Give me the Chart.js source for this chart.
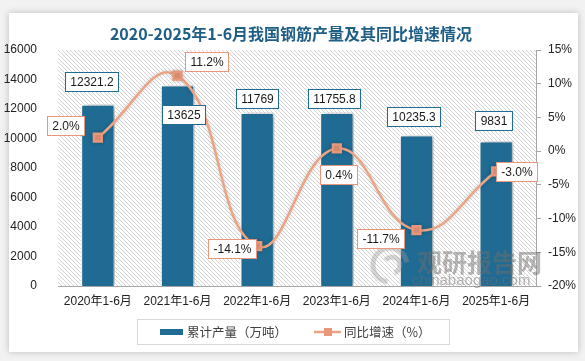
<!DOCTYPE html>
<html lang="zh">
<head>
<meta charset="utf-8">
<script src="https://cdn.jsdelivr.net/npm/chart.js"></script>
<style>
  html, body { margin: 0; padding: 0; background: #f2f2f2; }
  #wrap { position: relative; width: 585px; height: 361px; overflow: hidden; }
  #card { position: absolute; left: 9px; top: 13px; width: 569px; height: 339px; background: #fff; box-shadow: 0 0 7px rgba(0,0,0,0.22); }
  #c { position: absolute; left: 0; top: 0; }
</style>
</head>
<body>
<div id="wrap">
  <div id="card"></div>
  <canvas id="c" width="585" height="361"></canvas>
</div>
<script>
// 数据
const categories = ['2020年1-6月', '2021年1-6月', '2022年1-6月', '2023年1-6月', '2024年1-6月', '2025年1-6月'];
const output = [12321.2, 13625, 11769, 11755.8, 10235.3, 9831];   // 累计产量（万吨）
const growth = [2.0, 11.2, -14.1, 0.4, -11.7, -3.0];               // 同比增速（%）
const leftTicks = [0, 16000, 2000];
const rightTicks = [-20, 15, 5];

// 标签偏移 (dx, dy)
const barLabelOffsets = [[-6, -22], [6, 30], [0, -13], [-2, -14], [-3, -18], [-2, -20]];
const lineLabelOffsets = [[-32, -12], [29, -14], [-25, 3], [2, 27], [-36, 9], [21, 1]];

const BAR = '#1f6b93';
const LINE = '#eba585';
const MARK = '#e8977a';
const FONT = '"Liberation Sans", Arial, "Noto Sans CJK SC", sans-serif';

// 斜线背景
const tile = document.createElement('canvas');
tile.width = 4; tile.height = 4;
const tctx = tile.getContext('2d');
tctx.fillStyle = '#ffffff';
tctx.fillRect(0, 0, 4, 4);
tctx.fillStyle = '#d4d4d4';
for (let i = 0; i < 4; i++) tctx.fillRect(i, i, 1, 1);

function box(ctx, text, cx, cy, border) {
  ctx.font = '12px ' + FONT;
  const w = Math.round(ctx.measureText(text).width + 11), h = 20;
  const x = Math.round(cx - w / 2), y = Math.round(cy - h / 2);
  ctx.fillStyle = '#fff';
  ctx.fillRect(x, y, w, h);
  ctx.strokeStyle = border;
  ctx.lineWidth = 1;
  ctx.strokeRect(x + 0.5, y + 0.5, w - 1, h - 1);
  ctx.fillStyle = '#1a1a1a';
  ctx.textAlign = 'center';
  ctx.textBaseline = 'middle';
  ctx.fillText(text, x + w / 2, y + h / 2 + 0.5);
}

const decor = {
  id: 'decor',
  beforeDraw(chart) {
    const {ctx, chartArea: a} = chart;
    ctx.save();
    ctx.fillStyle = ctx.createPattern(tile, 'repeat');
    ctx.fillRect(a.left, a.top, a.right - a.left, a.bottom - a.top);
    ctx.restore();
  },
  beforeDatasetDraw(chart, args) {
    const ctx = chart.ctx;
    ctx.save();
    if (args.index === 0) {
      ctx.shadowColor = 'rgba(0,0,0,0.35)';
      ctx.shadowBlur = 6;
      ctx.shadowOffsetX = 3;
      ctx.shadowOffsetY = 0;
    } else {
      ctx.shadowColor = 'rgba(0,0,0,0.18)';
      ctx.shadowBlur = 4;
    }
  },
  afterDatasetDraw(chart) {
    chart.ctx.restore();
  },
  afterDraw(chart) {
    const ctx = chart.ctx;
    ctx.save();
    // 水印
    ctx.strokeStyle = 'rgba(150,150,150,0.4)';
    ctx.lineWidth = 5;
    ctx.beginPath();
    ctx.arc(390, 265, 17, Math.PI * 0.55, Math.PI * 1.95);
    ctx.stroke();
    ctx.beginPath();
    ctx.arc(392, 265, 8, Math.PI * 1.2, Math.PI * 2.4);
    ctx.stroke();
    ctx.fillStyle = 'rgba(110,110,110,0.5)';
    ctx.font = 'bold 25px "Noto Sans CJK SC", sans-serif';
    ctx.textAlign = 'left';
    ctx.textBaseline = 'alphabetic';
    ctx.fillText('观研报告网', 417, 272);
    ctx.font = '15px ' + FONT;
    ctx.fillText('chinabaogao.com', 412, 285);

    // 数据标签
    const bars = chart.getDatasetMeta(0).data;
    const pts = chart.getDatasetMeta(1).data;
    bars.forEach((b, i) => {
      const o = barLabelOffsets[i];
      box(ctx, String(output[i]), b.x + o[0], b.y + o[1], BAR);
    });
    pts.forEach((p, i) => {
      const o = lineLabelOffsets[i];
      box(ctx, growth[i].toFixed(1) + '%', p.x + o[0], p.y + o[1], MARK);
    });

    // 标题
    ctx.fillStyle = '#1f5f86';
    ctx.font = 'bold 16px "Noto Sans CJK SC", sans-serif';
    ctx.textAlign = 'center';
    ctx.textBaseline = 'middle';
    ctx.fillText('2020-2025年1-6月我国钢筋产量及其同比增速情况', 291, 34);

    // 图例
    ctx.strokeStyle = '#d9d9d9';
    ctx.lineWidth = 1;
    ctx.strokeRect(137.5, 319.5, 312, 25);
    ctx.fillStyle = BAR;
    ctx.fillRect(160, 329, 23, 6);
    ctx.strokeStyle = LINE;
    ctx.lineWidth = 2.5;
    ctx.beginPath(); ctx.moveTo(314, 332); ctx.lineTo(341, 332); ctx.stroke();
    ctx.fillStyle = MARK;
    ctx.fillRect(324, 328, 8, 8);
    ctx.fillStyle = '#404040';
    ctx.font = '12.5px "Noto Sans CJK SC", sans-serif';
    ctx.textAlign = 'left';
    ctx.fillText('累计产量（万吨）', 187, 332);
    ctx.fillText('同比增速（%）', 344, 332);
    ctx.restore();
  }
};

new Chart(document.getElementById('c'), {
  data: {
    labels: categories,
    datasets: [
      {
        type: 'bar',
        label: '累计产量（万吨）',
        data: output,
        yAxisID: 'y',
        backgroundColor: BAR,
        borderColor: '#ffffff',
        borderWidth: 1.5,
        barPercentage: 0.86,
        categoryPercentage: 0.5,
        order: 1
      },
      {
        type: 'line',
        label: '同比增速（%）',
        data: growth,
        yAxisID: 'y1',
        borderColor: LINE,
        borderWidth: 2.5,
        tension: 0.45,
        pointStyle: 'rect',
        pointRadius: 5.5,
        pointBackgroundColor: MARK,
        pointBorderColor: MARK,
        order: 0
      }
    ]
  },
  options: {
    responsive: false,
    animation: false,
    layout: { padding: { top: 50, left: 0, right: 0, bottom: 0 } },
    plugins: { legend: { display: false }, tooltip: { enabled: false } },
    scales: {
      x: {
        offset: true,
        grid: { display: true, drawOnChartArea: false, drawTicks: false, color: '#a6a6a6' },
        border: { display: true, color: '#a6a6a6' },
        ticks: { padding: 8, color: '#222', font: { size: 12, family: FONT } },
        afterFit(s) { s.height = 75; }
      },
      y: {
        position: 'left',
        min: leftTicks[0], max: leftTicks[1],
        grid: { display: false },
        border: { display: false },
        ticks: { stepSize: leftTicks[2], padding: 13, color: '#222', font: { size: 12, family: FONT }, callback: v => String(v) },
        afterFit(s) { s.width = 58; }
      },
      y1: {
        position: 'right',
        min: rightTicks[0], max: rightTicks[1],
        grid: { drawOnChartArea: false, drawTicks: true, tickLength: 5, color: '#a6a6a6' },
        border: { display: true, color: '#a6a6a6' },
        ticks: { stepSize: rightTicks[2], padding: 7, color: '#222', font: { size: 12, family: FONT }, callback: v => v + '%' },
        afterFit(s) { s.width = 49; }
      }
    }
  },
  plugins: [decor]
});
</script>
</body>
</html>
